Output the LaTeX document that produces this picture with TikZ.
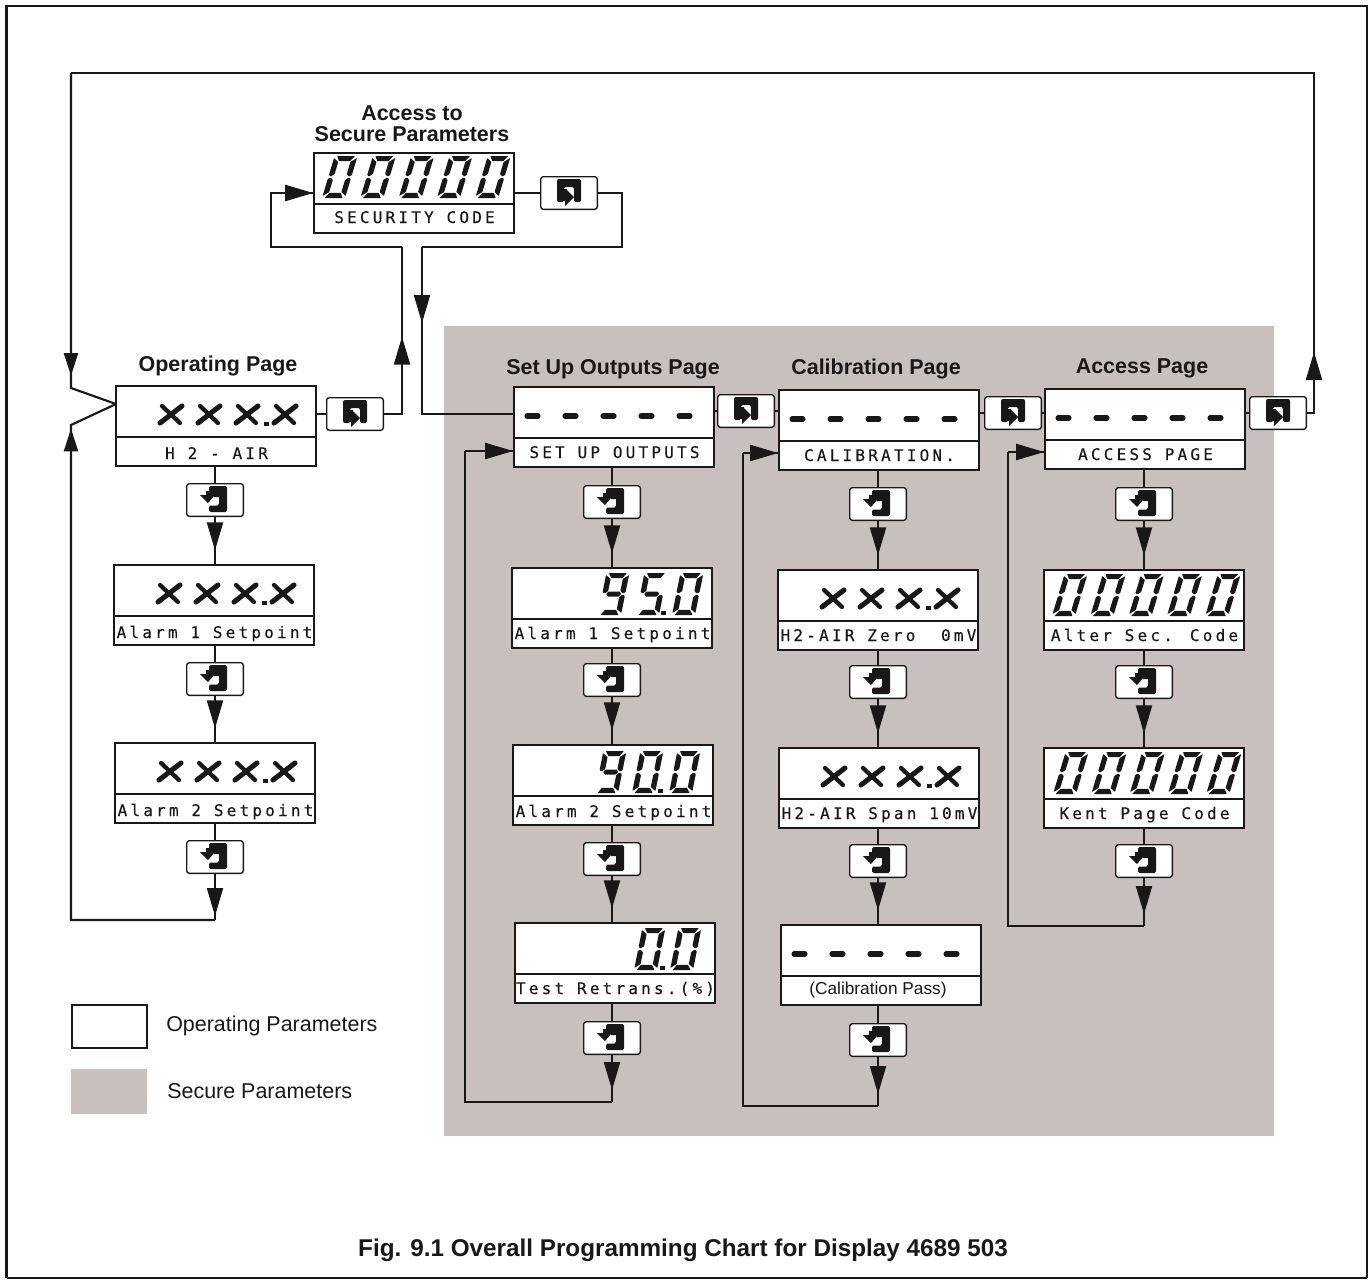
\documentclass[tikz,border=0pt]{standalone}
\usepackage{fontspec}
\setmainfont{Liberation Sans}
\newfontfamily\lcd[LetterSpace=20,FakeBold=.25]{DejaVu Sans Mono}
\usetikzlibrary{arrows.meta,decorations.markings}
\definecolor{secure}{HTML}{C8C0BE}
\definecolor{ink}{HTML}{1A1718}
\tikzset{
  dbx/.style={draw=ink,fill=white,line width=1.6pt,minimum width=150pt,minimum height=60pt,inner sep=0pt,outer sep=0pt},
  lbl/.style={anchor=base,inner sep=0pt,font=\fontsize{12pt}{14pt}\lcd,text=ink},
  keybx/.style={draw=ink,fill=white,line width=1pt,rounded corners=2pt,minimum width=42.5pt,minimum height=24.5pt,inner sep=0pt,outer sep=0pt},
  lnk/.style={draw=ink,line width=1.6pt,line join=miter},
  fa/.style={postaction={decorate},decoration={markings,mark=at position #1 with {\arrow{Triangle[length=21pt,width=12pt]}}}},
  fb/.style={postaction={decorate},decoration={markings,mark=at position #1 with {\arrow{Triangle[length=17pt,width=10.5pt]}}}},
  head/.style={font=\fontsize{16.1pt}{18pt}\bfseries,text=ink,inner sep=0pt,anchor=base},
  legend/.style={font=\fontsize{16.1pt}{18pt}\selectfont,text=ink,inner sep=0pt,anchor=base west},
  xmain/.style={draw=ink,line width=3.8pt,line cap=round},
  xsec/.style={draw=ink,line width=3.2pt,line cap=round},
  dashstroke/.style={draw=ink,line width=3.8pt,line cap=round},
}
\newcommand\sega{\fill[ink,rounded corners=.4pt] (2.5,0)--(20.5,0)--(17,5.2)--(6,5.2)--cycle;}
\newcommand\segb{\fill[ink,rounded corners=.4pt] (23,2)--(23,19)--(20.7,20.5)--(17.6,18)--(17.6,6)--cycle;}
\newcommand\segc{\fill[ink,rounded corners=.4pt] (23,40)--(23,23)--(20.7,21.5)--(17.6,24)--(17.6,36)--cycle;}
\newcommand\segd{\fill[ink,rounded corners=.4pt] (2.5,42)--(20.5,42)--(17,36.8)--(6,36.8)--cycle;}
\newcommand\sege{\fill[ink,rounded corners=.4pt] (0,40)--(0,23)--(2.3,21.5)--(5.4,24)--(5.4,36)--cycle;}
\newcommand\segf{\fill[ink,rounded corners=.4pt] (0,2)--(0,19)--(2.3,20.5)--(5.4,18)--(5.4,6)--cycle;}
\newcommand\segg{\fill[ink,rounded corners=.4pt] (6,18.5)--(17,18.5)--(19,21)--(17,23.5)--(6,23.5)--(4,21)--cycle;}
\newcommand\dgt[4]{\begin{scope}[shift={(#2+#1*42,#3)},xslant=#1]\foreach \s in {#4}{\csname seg\s\endcsname}\end{scope}}
\newcommand\dzero[2]{\dgt{.2}{#1}{#2}{a,b,c,d,e,f}}
\newcommand\dnine[2]{\dgt{.2}{#1}{#2}{a,b,c,d,f,g}}
\newcommand\dfive[2]{\dgt{.2}{#1}{#2}{a,c,d,f,g}}
\newcommand\zeros[2]{\foreach \i in {0,...,4}{\dgt{.3}{#1+38.3*\i}{#2}{a,b,c,d,e,f}}}
\newcommand\onex[2]{\draw[xmain] (#1,#2+20)--(#1+22,#2+3);\draw[xsec] (#1+2,#2+3)--(#1+20,#2+20);}
\newcommand\xset[2]{\onex{#1+44}{#2+17}\onex{#1+82}{#2+17}\onex{#1+120}{#2+17}\onex{#1+158}{#2+17}\fill[ink] (#1+148,#2+36) rectangle (#1+153,#2+40);}
\newcommand\dashset[2]{\foreach \i in {0,...,4}{\draw[dashstroke] (#1+13+38*\i,#2+29)--(#1+24+38*\i,#2+29);}}
\newcommand\dbox[5][71]{\node[dbx] (#2) at (#3+100,#4+40) {};\draw[lnk] (#2.west |- 0,#4+51)--(#2.east |- 0,#4+51);\node[lbl] (#2l) at (#3+100.5,#4+#1) {#5};}
\newcommand\keyE[3]{\node[keybx] (#1) at (#2,#3) {};
 \begin{scope}[shift={(#2,#3)}]
 \fill[ink,rounded corners=1.2pt] (-6,-14)--(12,-14)--(12,12)--(-6,12)--(-6,5.5)--(4,5.5)--(4,-7)--(-6,-7)--cycle;
 \fill[ink] (-15,-5)--(-9,-5)--(-9,-9)--(4,-9)--(4,-3)--(-1,-3)--(-1,-5)--(0,-5)--(-7,3)--cycle;
 \end{scope}}
\newcommand\keyR[3]{\node[keybx] (#1) at (#2,#3) {};
 \begin{scope}[shift={(#2,#3)}]
 \fill[ink,rounded corners=1.5pt] (-12,-14)--(12,-14)--(12,9)--(5,9)--(5,-6)--(-5,-6)--(-5,9)--(-12,9)--cycle;
 \fill[ink] (-7,-4)--(-2,-4)--(-2,-3)--(5,4)--(-4,13)--(-4,8)--(-7,8)--cycle;
 \end{scope}}
\begin{document}
\begin{tikzpicture}[x=0.75pt,y=-0.75pt]
\useasboundingbox (0,0) rectangle (1371,1279);
% frame and shaded area
\draw[ink,line width=2.2pt] (6.5,1278) -- (6.5,6) -- (1367,6) -- (1367,1278);
\draw[ink,line width=1pt] (6.5,1278) -- (1367,1278);
\fill[secure] (444,326) rectangle (1274,1136);
% boxes
\dbox[70]{sec}{314}{153}{SECURITY CODE}
\dbox[73]{op}{116}{386}{H 2 - AIR}
\dbox[73]{la}{114}{565}{Alarm 1 Setpoint}
\dbox[73]{lb}{115}{743}{Alarm 2 Setpoint}
\dbox{su}{514}{387}{SET UP OUTPUTS}
\dbox{sa}{512}{568}{Alarm 1 Setpoint}
\dbox[72]{sb}{513}{745}{Alarm 2 Setpoint}
\dbox{st}{515}{923}{Test Retrans.(\%)}
\dbox{ca}{779}{390}{CALIBRATION.}
\dbox{cz}{778}{570}{H2-AIR Zero\ \ 0mV}
\dbox{cs}{779}{748}{H2-AIR Span 10mV}
\dbox{cp}{781}{925}{}
\dbox{ac}{1045}{389}{ACCESS PAGE}
\dbox{aa}{1044}{570}{Alter Sec. Code}
\dbox{ak}{1044}{748}{Kent Page Code}
\node[font=\fontsize{12.95pt}{14pt}\selectfont,text=ink,inner sep=0pt,anchor=base] (cpl) at (878,994.5) {(Calibration Pass)};
% keys
\keyR{ksec}{569}{193}
\keyR{kop}{355}{414}
\keyR{ksu}{746}{411}
\keyR{kca}{1013}{413}
\keyR{kac}{1278}{413}
\keyE{e1}{215}{500}
\keyE{e2}{215}{679}
\keyE{e3}{215}{857}
\keyE{f1}{612}{502}
\keyE{f2}{612}{680}
\keyE{f3}{612}{859}
\keyE{f4}{612}{1038}
\keyE{g1}{878}{504}
\keyE{g2}{878}{682}
\keyE{g3}{878}{861}
\keyE{g4}{878}{1040}
\keyE{h1}{1144}{504}
\keyE{h2}{1144}{682}
\keyE{h3}{1144}{861}
% coordinates
\coordinate (loopNE) at (1314,73);
\coordinate (loopNW) at (71,73);
\coordinate (kinkT) at (71,388);
\coordinate (kinkB) at (71,425);
\coordinate (kinkM) at (116,404);
\coordinate (loopSE) at (215,920);
\coordinate (loopSW) at (71,920);
\coordinate (secR) at (622,193);
\coordinate (secRb) at (622,247);
\coordinate (secIn) at (422,247);
\coordinate (secOut) at (402,247);
\coordinate (secLb) at (271,247);
\coordinate (secL) at (271,193);
\coordinate (suC) at (612,1102);
\coordinate (suD) at (465,1102);
\coordinate (suE) at (465,451);
\coordinate (caC) at (878,1106);
\coordinate (caD) at (743,1106);
\coordinate (caE) at (743,453);
\coordinate (acC) at (1144,926);
\coordinate (acD) at (1008,926);
\coordinate (acE) at (1008,452);
% vertical chains
\draw[lnk] (e1 |- op.south) -- (e1.north);
\draw[lnk,fa=-11pt] (e1.south) -- (e1 |- la.north);
\draw[lnk] (e2 |- la.south) -- (e2.north);
\draw[lnk,fa=-11pt] (e2.south) -- (e2 |- lb.north);
\draw[lnk] (e3 |- lb.south) -- (e3.north);
\draw[lnk,fa=-3pt] (e3.south) -- (loopSE);
\draw[lnk] (f1 |- su.south) -- (f1.north);
\draw[lnk,fa=-11pt] (f1.south) -- (f1 |- sa.north);
\draw[lnk] (f2 |- sa.south) -- (f2.north);
\draw[lnk,fa=-11pt] (f2.south) -- (f2 |- sb.north);
\draw[lnk] (f3 |- sb.south) -- (f3.north);
\draw[lnk,fa=-11pt] (f3.south) -- (f3 |- st.north);
\draw[lnk] (f4 |- st.south) -- (f4.north);
\draw[lnk,fa=-9pt] (f4.south) -- (suC);
\draw[lnk] (g1 |- ca.south) -- (g1.north);
\draw[lnk,fa=-11pt] (g1.south) -- (g1 |- cz.north);
\draw[lnk] (g2 |- cz.south) -- (g2.north);
\draw[lnk,fa=-11pt] (g2.south) -- (g2 |- cs.north);
\draw[lnk] (g3 |- cs.south) -- (g3.north);
\draw[lnk,fa=-11pt] (g3.south) -- (g3 |- cp.north);
\draw[lnk] (g4 |- cp.south) -- (g4.north);
\draw[lnk,fa=-9pt] (g4.south) -- (caC);
\draw[lnk] (h1 |- ac.south) -- (h1.north);
\draw[lnk,fa=-11pt] (h1.south) -- (h1 |- aa.north);
\draw[lnk] (h2 |- aa.south) -- (h2.north);
\draw[lnk,fa=-11pt] (h2.south) -- (h2 |- ak.north);
\draw[lnk] (h3 |- ak.south) -- (h3.north);
\draw[lnk,fa=-9pt] (h3.south) -- (acC);
% horizontal page chain
\draw[lnk] (su.east |- ksu) -- (ksu.west);
\draw[lnk] (ksu.east) -- (ksu -| ca.west);
\draw[lnk] (ca.east |- kca) -- (kca.west);
\draw[lnk] (kca.east) -- (kca -| ac.west);
\draw[lnk] (ac.east |- kac) -- (kac.west);
\draw[lnk] (op.east |- kop) -- (kop.west);
\draw[lnk] (sec.east |- ksec) -- (ksec.west);
% feedback loops
\draw[lnk] (suC) -- (suD) -- (suE);
\draw[lnk,fa=-0.6pt] (suE) -- (suE -| su.west);
\draw[lnk] (caC) -- (caD) -- (caE);
\draw[lnk,fa=-0.6pt] (caE) -- (caE -| ca.west);
\draw[lnk] (acC) -- (acD) -- (acE);
\draw[lnk,fa=-0.6pt] (acE) -- (acE -| ac.west);
% security loop
\draw[lnk] (ksec.east) -- (secR) -- (secRb) -- (secIn);
\draw[lnk,fa=57pt] (secIn) -- (secIn |- 0,414) -- (su.west |- 0,414);
\draw[lnk,fa=-0.6pt] (secOut) -- (secLb) -- (secL) -- (sec.west |- secL);
\draw[lnk,fa=72pt] (kop.east) -- (kop -| secOut) -- (secOut);
% outer loop
\draw[lnk,fa=51.5pt] (kac.east) -- (kac -| loopNE) -- (loopNE) -- (loopNW);
\draw[lnk,fb=-45pt] (loopNW) -- (kinkT) -- (kinkM);
\draw[lnk,fb=-40pt] (loopSE) -- (loopSW) -- (kinkB) -- (kinkM);
% displays
\zeros{322}{156}
\zeros{1052}{574}
\zeros{1053}{752}
\xset{116}{386}
\xset{114}{565}
\xset{115}{743}
\xset{778}{570}
\xset{779}{748}
\dashset{514}{387}
\dashset{779}{390}
\dashset{1045}{389}
\dashset{781}{925}
\dnine{598}{573}\dfive{636}{573}\dzero{672}{573}\fill[ink] (661,611) rectangle (666,615);
\dnine{595}{751}\dzero{632}{751}\dzero{669}{751}\fill[ink] (658,789) rectangle (663,793);
\dzero{634}{928}\dzero{670}{928}\fill[ink] (660,966) rectangle (665,970);
% headings
\node[head] (t1) at (412,120) {Access to};
\node[head] (t2) at (412,141) {Secure Parameters};
\node[head] (t3) at (218,371) {Operating Page};
\node[head] (t4) at (613,374) {Set Up Outputs Page};
\node[head] (t5) at (876,374) {Calibration Page};
\node[head] (t6) at (1142,373) {Access Page};
\node[head,font=\fontsize{18.2pt}{20pt}\bfseries] (fig) at (683,1256) {Fig. 9.1 Overall Programming Chart for Display 4689 503};
% legend
\node[draw=ink,fill=white,line width=1.8pt,minimum width=56pt,minimum height=32pt,inner sep=0pt,outer sep=0pt] (leg1) at (109.5,1026.5) {};
\node[fill=secure,minimum width=57pt,minimum height=34pt,inner sep=0pt,outer sep=0pt] (leg2) at (109,1091.5) {};
\node[legend] (lt1) at (166,1031) {Operating Parameters};
\node[legend] (lt2) at (167,1098) {Secure Parameters};
\end{tikzpicture}
\end{document}
